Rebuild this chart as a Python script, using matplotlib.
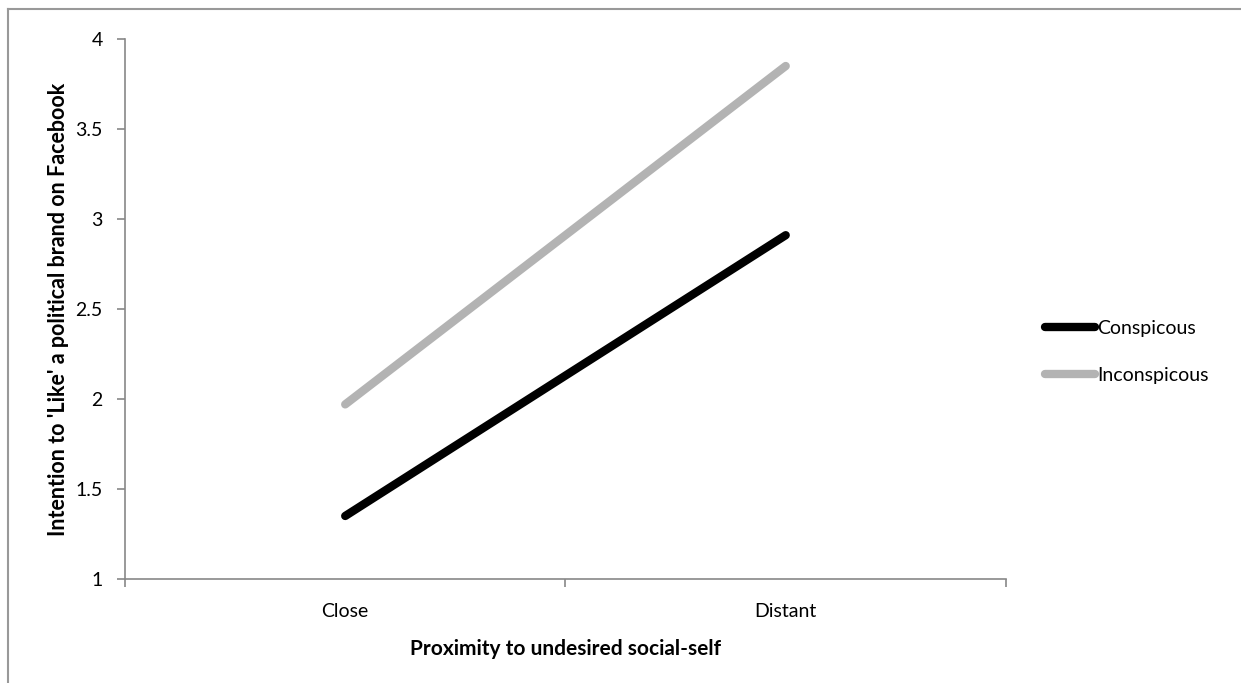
import matplotlib.pyplot as plt
from matplotlib.lines import Line2D

plt.rcParams['font.family'] = ['Lato', 'DejaVu Sans']

# Data =====================================================
categories = ['Close', 'Distant']
conspicous = [1.35, 2.91]
inconspicous = [1.97, 3.85]

# Plot =====================================================
fig = plt.figure(figsize=(12.41, 6.83), dpi=100)
ax = fig.add_axes([0.1007, 0.1523, 0.7099, 0.7906])

x = list(range(len(categories)))
ax.plot(x, conspicous, color='black', linewidth=6, solid_capstyle='round', label='Conspicous')
ax.plot(x, inconspicous, color='#b3b3b3', linewidth=6, solid_capstyle='round', label='Inconspicous')

ax.set_xlim(-0.5, 1.5)
ax.set_ylim(1, 4)
ax.set_yticks([1, 1.5, 2, 2.5, 3, 3.5, 4])
ax.set_yticklabels(['1', '1.5', '2', '2.5', '3', '3.5', '4'])
ax.set_xticks(x)
ax.set_xticklabels(categories)
ax.set_xticks([-0.5, 0.5, 1.5], minor=True)
ax.tick_params(axis='x', which='major', length=0, pad=17, labelsize=14)
ax.tick_params(axis='x', which='minor', length=6, color='#888888', width=1.2)
ax.tick_params(axis='y', length=6, color='#888888', width=1.2, labelsize=14, pad=10)

for s in ['top', 'right']:
    ax.spines[s].set_visible(False)
for s in ['left', 'bottom']:
    ax.spines[s].set_color('#888888')
    ax.spines[s].set_linewidth(1.2)

ax.set_xlabel('Proximity to undesired social-self', fontsize=15, fontweight='bold', labelpad=14)
ax.set_ylabel("Intention to 'Like' a political brand on Facebook", fontsize=15.5, fontweight='bold')
ax.yaxis.set_label_coords(-0.063, 0.5)

leg = ax.legend(loc='center left', bbox_to_anchor=(1.035, 0.42), frameon=False, fontsize=14,
                handlelength=2.6, handletextpad=0.1, labelspacing=1.55, borderaxespad=0)
for h in leg.get_lines():
    h.set_solid_capstyle('round')

# outer frame (top + left edge)
fig.add_artist(Line2D([8 / 1241, 1], [1 - 9 / 683, 1 - 9 / 683], color='#999999', linewidth=1.5))
fig.add_artist(Line2D([8 / 1241, 8 / 1241], [0, 1 - 9 / 683], color='#999999', linewidth=1.5))

fig.savefig('out.png', dpi=100)
